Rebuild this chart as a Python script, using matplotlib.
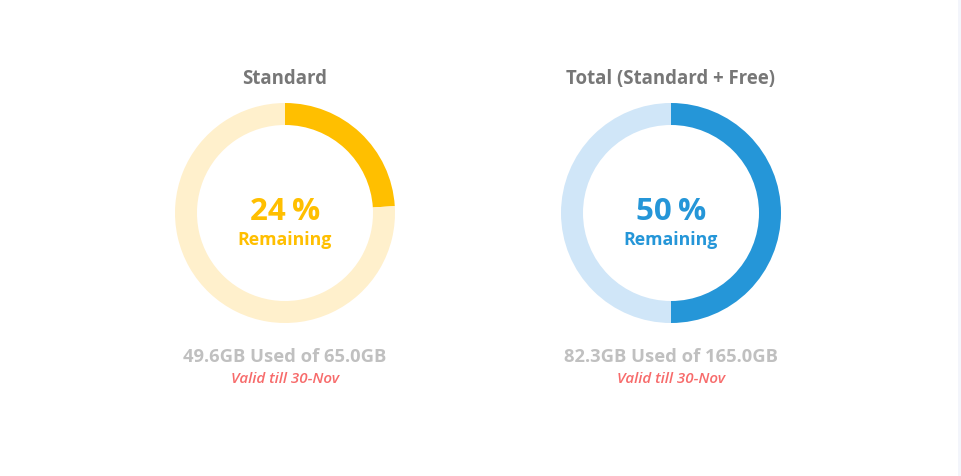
#!/usr/bin/env python3

'''
Two donut gauges showing remaining storage quota.
'''

import matplotlib.pyplot as plt
from matplotlib.patches import Rectangle

plt.rcParams['font.family'] = ['Open Sans', 'DejaVu Sans']

# data
titles = ['Standard', 'Total (Standard + Free)']
used_gb = [49.6, 82.3]
total_gb = [65.0, 165.0]
remaining_pct = [24, 50]
valid_till = ['30-Nov', '30-Nov']

# styles
dark_cols = ['#ffbf00', '#2596d8']
light_cols = ['#fff0cc', '#d0e6f8']
centers_x = [285, 671]
W, H = 962, 477
cy = H - 214
R = 110
ring = 22

fig = plt.figure(figsize=(W / 100, H / 100), dpi=100)
fig.patch.set_facecolor('white')
ax = fig.add_axes([0, 0, 1, 1])

for i in range(len(titles)):
    cx = centers_x[i]
    ax.pie([remaining_pct[i], 100 - remaining_pct[i]],
           colors=[dark_cols[i], light_cols[i]],
           startangle=90, counterclock=False,
           center=(cx, cy), radius=R, frame=True,
           wedgeprops=dict(width=ring, linewidth=0))

    # text, positions given as pixel baselines from top
    ax.text(cx, H - 84, titles[i], ha='center', va='baseline',
            fontsize=13.4, fontweight='bold', color='#777777')
    ax.text(cx, H - 220, '%d\u2009%%' % remaining_pct[i], ha='center',
            va='baseline', fontsize=22.5, fontweight='bold',
            color=dark_cols[i])
    ax.text(cx, H - 245, 'Remaining', ha='center', va='baseline',
            fontsize=12.8, fontweight='bold', color=dark_cols[i])
    ax.text(cx, H - 362,
            '%.1fGB Used of %.1fGB' % (used_gb[i], total_gb[i]),
            ha='center', va='baseline', fontsize=13.2, fontweight='bold',
            color='#c0c0c0')
    ax.text(cx, H - 383, 'Valid till ' + valid_till[i], ha='center',
            va='baseline', fontsize=10.9, fontstyle='italic',
            fontweight='semibold', color='#f76b6b')

ax.set_xlim(0, W)
ax.set_ylim(0, H)
ax.set_aspect('auto')
ax.axis('off')

# faint page edge on the right
fig.patches.append(Rectangle((958 / W, 0), 4 / W, 1, transform=fig.transFigure,
                             facecolor='#f3f5fb', edgecolor='none'))

plt.savefig('out.png', dpi=100, facecolor='white')
